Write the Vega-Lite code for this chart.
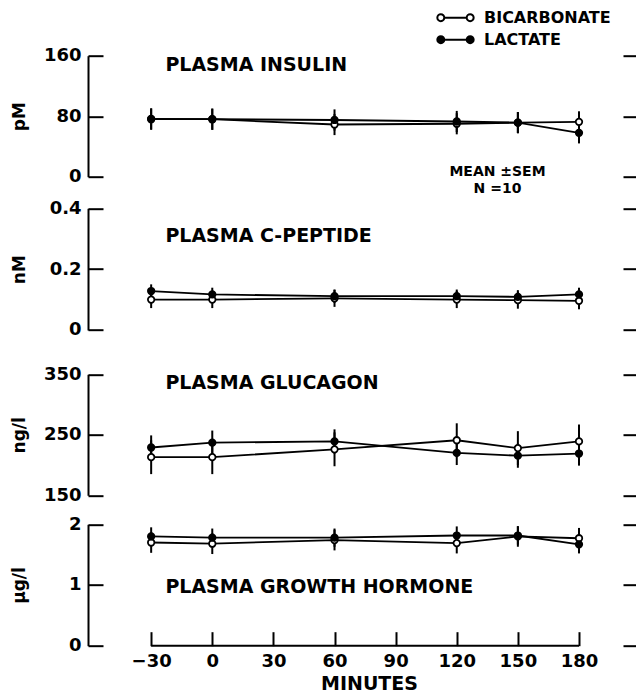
{
  "$schema": "https://vega.github.io/schema/vega-lite/v6.json",
  "background": "white",
  "padding": {"left": 10, "top": 7.7, "right": 0, "bottom": 0},
  "width": 535,
  "height": 590,
  "datasets": {
    "d": [
      {"hormone": "insulin", "treatment": "BICARBONATE", "minute": -30, "value": 76, "sem": 14},
      {"hormone": "insulin", "treatment": "BICARBONATE", "minute": 0, "value": 76, "sem": 14},
      {"hormone": "insulin", "treatment": "BICARBONATE", "minute": 60, "value": 69, "sem": 14},
      {"hormone": "insulin", "treatment": "BICARBONATE", "minute": 120, "value": 70, "sem": 14},
      {"hormone": "insulin", "treatment": "BICARBONATE", "minute": 150, "value": 71.5, "sem": 14},
      {"hormone": "insulin", "treatment": "BICARBONATE", "minute": 180, "value": 72.5, "sem": 14},
      {"hormone": "insulin", "treatment": "LACTATE", "minute": -30, "value": 76.5, "sem": 14},
      {"hormone": "insulin", "treatment": "LACTATE", "minute": 0, "value": 76, "sem": 14},
      {"hormone": "insulin", "treatment": "LACTATE", "minute": 60, "value": 75, "sem": 14},
      {"hormone": "insulin", "treatment": "LACTATE", "minute": 120, "value": 73, "sem": 14},
      {"hormone": "insulin", "treatment": "LACTATE", "minute": 150, "value": 71.5, "sem": 14},
      {"hormone": "insulin", "treatment": "LACTATE", "minute": 180, "value": 58, "sem": 14},
      {"hormone": "cpeptide", "treatment": "BICARBONATE", "minute": -30, "value": 0.1, "sem": 0.028},
      {"hormone": "cpeptide", "treatment": "BICARBONATE", "minute": 0, "value": 0.1, "sem": 0.028},
      {"hormone": "cpeptide", "treatment": "BICARBONATE", "minute": 60, "value": 0.104, "sem": 0.028},
      {"hormone": "cpeptide", "treatment": "BICARBONATE", "minute": 120, "value": 0.1, "sem": 0.028},
      {"hormone": "cpeptide", "treatment": "BICARBONATE", "minute": 150, "value": 0.098, "sem": 0.028},
      {"hormone": "cpeptide", "treatment": "BICARBONATE", "minute": 180, "value": 0.096, "sem": 0.028},
      {"hormone": "cpeptide", "treatment": "LACTATE", "minute": -30, "value": 0.128, "sem": 0.022},
      {"hormone": "cpeptide", "treatment": "LACTATE", "minute": 0, "value": 0.117, "sem": 0.022},
      {"hormone": "cpeptide", "treatment": "LACTATE", "minute": 60, "value": 0.111, "sem": 0.022},
      {"hormone": "cpeptide", "treatment": "LACTATE", "minute": 120, "value": 0.111, "sem": 0.022},
      {"hormone": "cpeptide", "treatment": "LACTATE", "minute": 150, "value": 0.109, "sem": 0.022},
      {"hormone": "cpeptide", "treatment": "LACTATE", "minute": 180, "value": 0.117, "sem": 0.022},
      {"hormone": "glucagon", "treatment": "BICARBONATE", "minute": -30, "value": 213, "sem": 28},
      {"hormone": "glucagon", "treatment": "BICARBONATE", "minute": 0, "value": 213, "sem": 28},
      {"hormone": "glucagon", "treatment": "BICARBONATE", "minute": 60, "value": 226, "sem": 28},
      {"hormone": "glucagon", "treatment": "BICARBONATE", "minute": 120, "value": 241, "sem": 28},
      {"hormone": "glucagon", "treatment": "BICARBONATE", "minute": 150, "value": 228, "sem": 28},
      {"hormone": "glucagon", "treatment": "BICARBONATE", "minute": 180, "value": 239, "sem": 28},
      {"hormone": "glucagon", "treatment": "LACTATE", "minute": -30, "value": 229, "sem": 20},
      {"hormone": "glucagon", "treatment": "LACTATE", "minute": 0, "value": 237, "sem": 20},
      {"hormone": "glucagon", "treatment": "LACTATE", "minute": 60, "value": 239, "sem": 20},
      {"hormone": "glucagon", "treatment": "LACTATE", "minute": 120, "value": 220, "sem": 20},
      {"hormone": "glucagon", "treatment": "LACTATE", "minute": 150, "value": 215.5, "sem": 20},
      {"hormone": "glucagon", "treatment": "LACTATE", "minute": 180, "value": 219, "sem": 20},
      {"hormone": "gh", "treatment": "BICARBONATE", "minute": -30, "value": 1.7, "sem": 0.17},
      {"hormone": "gh", "treatment": "BICARBONATE", "minute": 0, "value": 1.68, "sem": 0.17},
      {"hormone": "gh", "treatment": "BICARBONATE", "minute": 60, "value": 1.74, "sem": 0.17},
      {"hormone": "gh", "treatment": "BICARBONATE", "minute": 120, "value": 1.69, "sem": 0.17},
      {"hormone": "gh", "treatment": "BICARBONATE", "minute": 150, "value": 1.8, "sem": 0.17},
      {"hormone": "gh", "treatment": "BICARBONATE", "minute": 180, "value": 1.77, "sem": 0.17},
      {"hormone": "gh", "treatment": "LACTATE", "minute": -30, "value": 1.8, "sem": 0.15},
      {"hormone": "gh", "treatment": "LACTATE", "minute": 0, "value": 1.78, "sem": 0.15},
      {"hormone": "gh", "treatment": "LACTATE", "minute": 60, "value": 1.78, "sem": 0.15},
      {"hormone": "gh", "treatment": "LACTATE", "minute": 120, "value": 1.815, "sem": 0.15},
      {"hormone": "gh", "treatment": "LACTATE", "minute": 150, "value": 1.815, "sem": 0.15},
      {"hormone": "gh", "treatment": "LACTATE", "minute": 180, "value": 1.67, "sem": 0.15}
    ]
  },
  "data": {"name": "d"},
  "config": {
    "font": "DejaVu Sans",
    "view": {"stroke": null},
    "axis": {
      "labelFont": "DejaVu Sans", "labelFontWeight": "bold", "labelFontSize": 18, "labelColor": "black",
      "titleFont": "DejaVu Sans", "titleFontWeight": "bold", "titleFontSize": 17, "titleColor": "black",
      "domainColor": "black", "tickColor": "black", "domainWidth": 2, "tickWidth": 2, "grid": false
    },
    "axisLeft": {"tickSize": -15, "labelPadding": 22, "titleX": -64, "titleBaseline": "alphabetic", "domain": true},
    "axisRight": {"tickSize": 13, "domain": false, "labels": false},
    "axisBottom": {"tickSize": -14, "labelPadding": 21, "domain": false},
    "text": {"font": "DejaVu Sans", "fontWeight": "bold", "color": "black"}
  },
  "layer": [
    {
      "transform": [{"filter": "datum.hormone === 'insulin'"}],
      "layer": [
        {
          "mark": {"type": "errorbar", "color": "black", "thickness": 2},
          "encoding": {
            "x": {"field": "minute", "type": "quantitative", "scale": {"domain": [-61, 201.6], "nice": false, "zero": false}, "axis": {"orient": "bottom", "values": [-30, 0, 30, 60, 90, 120, 150, 180], "title": "MINUTES", "titleFontSize": 19, "titlePadding": 4, "titleX": 281}},
            "y": {"field": "value", "type": "quantitative", "scale": {"domain": [0, 160], "range": [121, 0], "nice": false, "zero": false}, "axis": {"orient": "left", "values": [0, 80, 160], "title": "pM", "format": "~r"}},
            "yError": {"field": "sem"}
          }
        },
        {
          "mark": {"type": "line", "color": "black", "strokeWidth": 1.8},
          "encoding": {
            "x": {"field": "minute", "type": "quantitative"},
            "y": {"field": "value", "type": "quantitative", "axis": {"orient": "right", "values": [0, 80, 160], "title": null}},
            "detail": {"field": "treatment"}
          }
        },
        {
          "mark": {"type": "point", "shape": "circle", "size": 42, "filled": true, "stroke": "black", "strokeWidth": 1.8, "opacity": 1},
          "encoding": {
            "x": {"field": "minute", "type": "quantitative"},
            "y": {"field": "value", "type": "quantitative", "axis": null},
            "fill": {
              "field": "treatment", "type": "nominal",
              "scale": {"domain": ["BICARBONATE", "LACTATE"], "range": ["white", "black"]},
              "legend": {
                "orient": "none", "legendX": 348, "legendY": -48, "title": null,
                "symbolType": "M-0.99,0A0.19,0.19,0,1,0,-0.61,0A0.19,0.19,0,1,0,-0.99,0ZM-0.61,0L0.61,0M0.61,0A0.19,0.19,0,1,0,0.99,0A0.19,0.19,0,1,0,0.61,0Z",
                "symbolSize": 1347, "symbolStrokeColor": "black", "symbolStrokeWidth": 2,
                "labelFont": "DejaVu Sans", "labelFontWeight": "bold", "labelFontSize": 16, "labelColor": "black",
                "labelOffset": 9, "clipHeight": 20, "rowPadding": 2, "padding": 0
              }
            }
          }
        },
        {
          "data": {"values": [{"hormone": "insulin", "label": "PLASMA INSULIN"}]},
          "mark": {"type": "text", "align": "left", "baseline": "middle", "fontSize": 19},
          "encoding": {
            "x": {"datum": -23, "type": "quantitative"},
            "y": {"datum": 148, "type": "quantitative", "axis": null},
            "text": {"field": "label"}
          }
        },
        {
          "data": {"values": [{"hormone": "insulin", "label": "MEAN ±SEM"}]},
          "mark": {"type": "text", "align": "center", "baseline": "middle", "fontSize": 14},
          "encoding": {
            "x": {"datum": 140, "type": "quantitative"},
            "y": {"datum": 6.4, "type": "quantitative", "axis": null},
            "text": {"field": "label"}
          }
        },
        {
          "data": {"values": [{"hormone": "insulin", "label": "N =10"}]},
          "mark": {"type": "text", "align": "center", "baseline": "middle", "fontSize": 14},
          "encoding": {
            "x": {"datum": 140, "type": "quantitative"},
            "y": {"datum": -16.5, "type": "quantitative", "axis": null},
            "text": {"field": "label"}
          }
        }
      ],
      "resolve": {"axis": {"y": "independent"}}
    },
    {
      "transform": [{"filter": "datum.hormone === 'cpeptide'"}],
      "layer": [
        {
          "mark": {"type": "errorbar", "color": "black", "thickness": 2},
          "encoding": {
            "x": {"field": "minute", "type": "quantitative"},
            "y": {"field": "value", "type": "quantitative", "scale": {"domain": [0, 0.4], "range": [274.3, 152.6], "nice": false, "zero": false}, "axis": {"orient": "left", "values": [0, 0.2, 0.4], "title": "nM", "format": "~r"}},
            "yError": {"field": "sem"}
          }
        },
        {
          "mark": {"type": "line", "color": "black", "strokeWidth": 1.8},
          "encoding": {
            "x": {"field": "minute", "type": "quantitative"},
            "y": {"field": "value", "type": "quantitative", "axis": {"orient": "right", "values": [0, 0.2, 0.4], "title": null}},
            "detail": {"field": "treatment"}
          }
        },
        {
          "mark": {"type": "point", "shape": "circle", "size": 42, "filled": true, "stroke": "black", "strokeWidth": 1.8, "opacity": 1},
          "encoding": {
            "x": {"field": "minute", "type": "quantitative"},
            "y": {"field": "value", "type": "quantitative", "axis": null},
            "fill": {"field": "treatment", "type": "nominal", "legend": null}
          }
        },
        {
          "data": {"values": [{"hormone": "cpeptide", "label": "PLASMA C-PEPTIDE"}]},
          "mark": {"type": "text", "align": "left", "baseline": "middle", "fontSize": 19},
          "encoding": {
            "x": {"datum": -23, "type": "quantitative"},
            "y": {"datum": 0.308, "type": "quantitative", "axis": null},
            "text": {"field": "label"}
          }
        }
      ],
      "resolve": {"axis": {"y": "independent"}}
    },
    {
      "transform": [{"filter": "datum.hormone === 'glucagon'"}],
      "layer": [
        {
          "mark": {"type": "errorbar", "color": "black", "thickness": 2},
          "encoding": {
            "x": {"field": "minute", "type": "quantitative"},
            "y": {"field": "value", "type": "quantitative", "scale": {"domain": [150, 350], "range": [439.6, 318.6], "nice": false, "zero": false}, "axis": {"orient": "left", "values": [150, 250, 350], "title": "ng/l", "format": "~r"}},
            "yError": {"field": "sem"}
          }
        },
        {
          "mark": {"type": "line", "color": "black", "strokeWidth": 1.8},
          "encoding": {
            "x": {"field": "minute", "type": "quantitative"},
            "y": {"field": "value", "type": "quantitative", "axis": {"orient": "right", "values": [150, 250, 350], "title": null}},
            "detail": {"field": "treatment"}
          }
        },
        {
          "mark": {"type": "point", "shape": "circle", "size": 42, "filled": true, "stroke": "black", "strokeWidth": 1.8, "opacity": 1},
          "encoding": {
            "x": {"field": "minute", "type": "quantitative"},
            "y": {"field": "value", "type": "quantitative", "axis": null},
            "fill": {"field": "treatment", "type": "nominal", "legend": null}
          }
        },
        {
          "data": {"values": [{"hormone": "glucagon", "label": "PLASMA GLUCAGON"}]},
          "mark": {"type": "text", "align": "left", "baseline": "middle", "fontSize": 19},
          "encoding": {
            "x": {"datum": -23, "type": "quantitative"},
            "y": {"datum": 335.6, "type": "quantitative", "axis": null},
            "text": {"field": "label"}
          }
        }
      ],
      "resolve": {"axis": {"y": "independent"}}
    },
    {
      "transform": [{"filter": "datum.hormone === 'gh'"}],
      "layer": [
        {
          "mark": {"type": "errorbar", "color": "black", "thickness": 2},
          "encoding": {
            "x": {"field": "minute", "type": "quantitative"},
            "y": {"field": "value", "type": "quantitative", "scale": {"domain": [0, 2], "range": [590, 468.6], "nice": false, "zero": false}, "axis": {"orient": "left", "values": [0, 1, 2], "title": "μg/l", "format": "~r"}},
            "yError": {"field": "sem"}
          }
        },
        {
          "mark": {"type": "line", "color": "black", "strokeWidth": 1.8},
          "encoding": {
            "x": {"field": "minute", "type": "quantitative"},
            "y": {"field": "value", "type": "quantitative", "axis": {"orient": "right", "values": [0, 1, 2], "title": null}},
            "detail": {"field": "treatment"}
          }
        },
        {
          "mark": {"type": "point", "shape": "circle", "size": 42, "filled": true, "stroke": "black", "strokeWidth": 1.8, "opacity": 1},
          "encoding": {
            "x": {"field": "minute", "type": "quantitative"},
            "y": {"field": "value", "type": "quantitative", "axis": null},
            "fill": {"field": "treatment", "type": "nominal", "legend": null}
          }
        },
        {
          "mark": {"type": "rule", "color": "black", "strokeWidth": 2},
          "encoding": {
            "x": {"aggregate": "min", "field": "minute", "type": "quantitative"},
            "x2": {"aggregate": "max", "field": "minute"},
            "y": {"datum": 0, "type": "quantitative", "axis": null}
          }
        },
        {
          "data": {"values": [{"hormone": "gh", "label": "PLASMA GROWTH HORMONE"}]},
          "mark": {"type": "text", "align": "left", "baseline": "middle", "fontSize": 19},
          "encoding": {
            "x": {"datum": -23, "type": "quantitative"},
            "y": {"datum": 0.97, "type": "quantitative", "axis": null},
            "text": {"field": "label"}
          }
        }
      ],
      "resolve": {"axis": {"y": "independent"}}
    }
  ],
  "resolve": {"scale": {"y": "independent"}, "axis": {"y": "independent"}}
}
